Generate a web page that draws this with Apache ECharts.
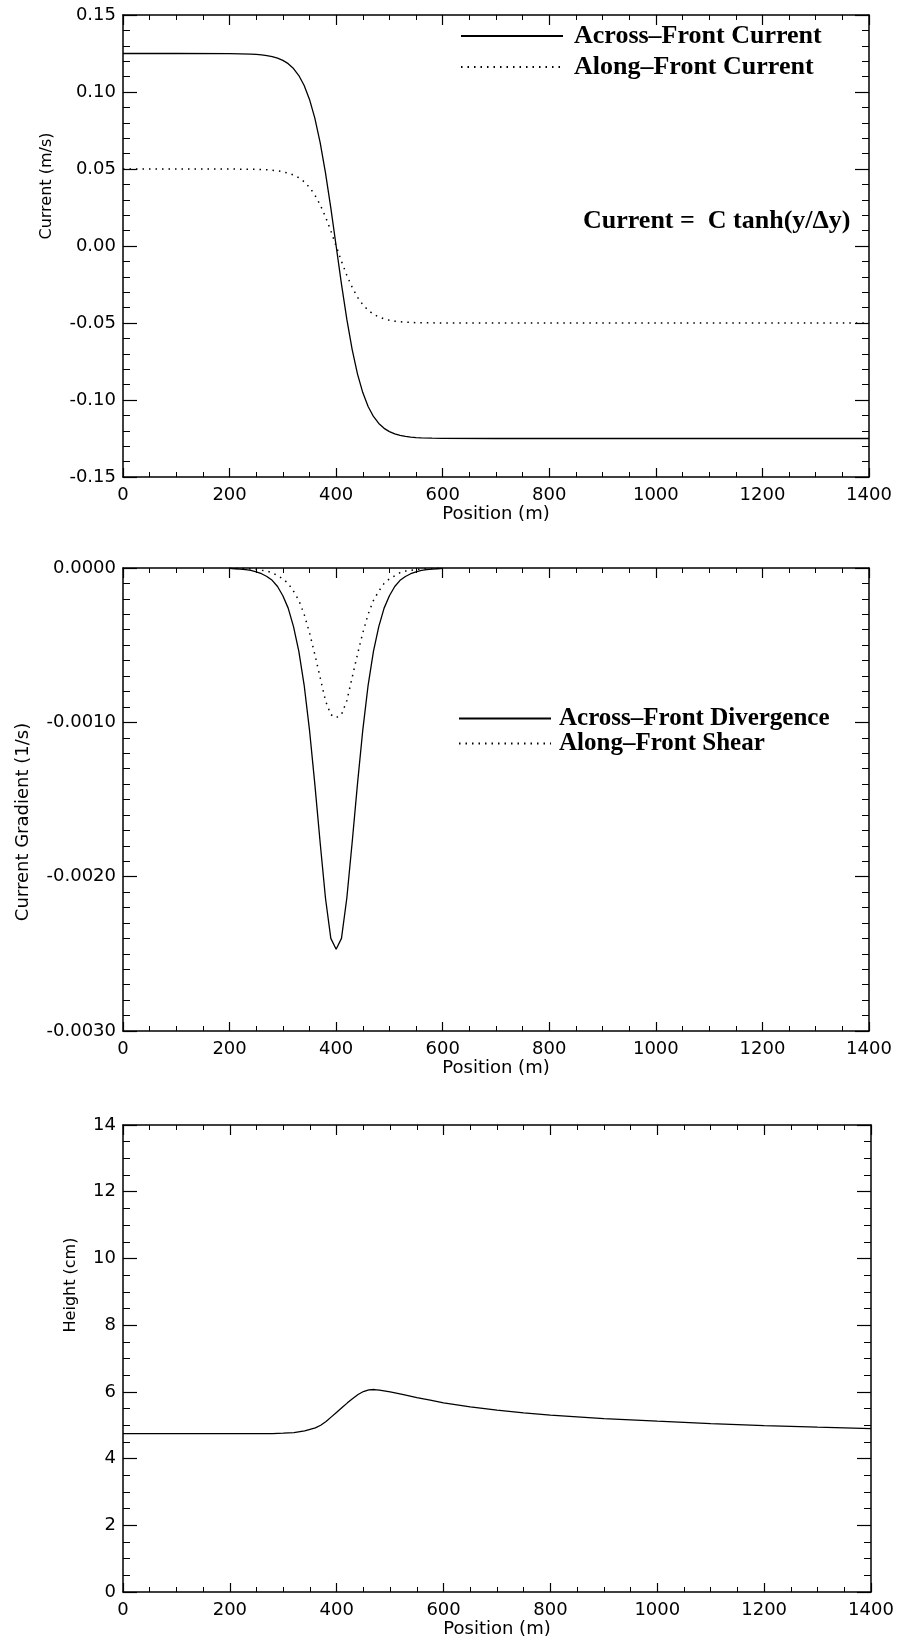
<!DOCTYPE html>
<html><head><meta charset="utf-8">
<script src="https://cdn.jsdelivr.net/npm/echarts@6/dist/echarts.min.js"></script>
<style>html,body{margin:0;padding:0;background:#fff}#c{width:899px;height:1641px}</style>
</head><body><div id="c"></div>
<script>
// ---------- data ----------
const xTicks = [0, 200, 400, 600, 800, 1000, 1200, 1400];

// Panel 1: currents (m/s)
const posCurrent = [0,100,200,220,240,250,260,270,280,290,300,310,320,330,340,350,360,370,380,390,400,410,420,430,440,450,460,470,480,490,500,510,520,530,540,550,560,580,600,700,800,1000,1200,1400];
const acrossCurrent = [0.125,0.125,0.1249,0.1248,0.1246,0.1244,0.1241,0.1236,0.1230,0.1220,0.1205,0.1184,0.1152,0.1107,0.1042,0.0952,0.0830,0.0671,0.0475,0.0247,0.0,-0.0247,-0.0475,-0.0671,-0.0830,-0.0952,-0.1042,-0.1107,-0.1152,-0.1184,-0.1205,-0.1220,-0.1230,-0.1236,-0.1241,-0.1244,-0.1246,-0.1248,-0.1249,-0.125,-0.125,-0.125,-0.125,-0.125];
const alongCurrent = [0.050,0.050,0.0500,0.0499,0.0498,0.0498,0.0496,0.0495,0.0492,0.0488,0.0482,0.0473,0.0461,0.0443,0.0417,0.0381,0.0332,0.0268,0.0190,0.0099,0.0,-0.0099,-0.0190,-0.0268,-0.0332,-0.0381,-0.0417,-0.0443,-0.0461,-0.0473,-0.0482,-0.0488,-0.0492,-0.0495,-0.0496,-0.0498,-0.0498,-0.0499,-0.0500,-0.050,-0.050,-0.050,-0.050,-0.050];

// Panel 2: gradients (1/s)
const posGrad = [200,210,220,230,240,250,260,270,280,290,300,310,320,330,340,350,360,370,380,390,400,410,420,430,440,450,460,470,480,490,500,510,520,530,540,550,560,570,580,590,600];
const divergence = [-0.000003,-0.000005,-0.000007,-0.000011,-0.000016,-0.000025,-0.000037,-0.000055,-0.00008,-0.00012,-0.00018,-0.00026,-0.00038,-0.00054,-0.00076,-0.00105,-0.00140,-0.00178,-0.00214,-0.00240,-0.00247,-0.00240,-0.00214,-0.00178,-0.00140,-0.00105,-0.00076,-0.00054,-0.00038,-0.00026,-0.00018,-0.00012,-0.00008,-0.000055,-0.000037,-0.000025,-0.000016,-0.000011,-0.000007,-0.000005,-0.000003];
const shear = [-0.000001,-0.000002,-0.000003,-0.000004,-0.000006,-0.00001,-0.000015,-0.00002,-0.00003,-0.00005,-0.00007,-0.00010,-0.00015,-0.00021,-0.00030,-0.00042,-0.00056,-0.00071,-0.00086,-0.00095,-0.00097,-0.00095,-0.00086,-0.00071,-0.00056,-0.00042,-0.00030,-0.00021,-0.00015,-0.00010,-0.00007,-0.00005,-0.00003,-0.00002,-0.000015,-0.00001,-0.000006,-0.000004,-0.000003,-0.000002,-0.000001];

// Panel 3: height (cm)
const posHeight = [0,100,200,280,300,320,340,360,370,380,390,400,410,420,430,440,450,460,470,480,500,525,550,575,600,650,700,750,800,900,1000,1100,1200,1300,1400];
const height = [4.75,4.75,4.75,4.75,4.76,4.78,4.83,4.92,5.00,5.11,5.25,5.39,5.53,5.67,5.80,5.92,6.01,6.06,6.07,6.05,6.00,5.92,5.83,5.75,5.67,5.55,5.45,5.37,5.30,5.20,5.12,5.05,4.99,4.94,4.90];

// ---------- build ----------
const pair = (xs, ys) => xs.map((x, i) => [x, ys[i]]);
const AX = '#000';
const tickFont = {fontFamily: 'DejaVu Sans', fontSize: 18, color: '#000'};

function xAxes(gi) {
  const base = {gridIndex: gi, type: 'value', min: 0, max: 1400, interval: 200,
    axisLine: {show: true, onZero: false, lineStyle: {color: AX, width: 1.5}},
    splitLine: {show: false}};
  return [
    Object.assign({}, base, {position: 'bottom',
      name: 'Position (m)', nameLocation: 'middle', nameGap: 27,
      nameTextStyle: tickFont,
      axisTick: {show: true, inside: true, length: 9, lineStyle: {color: AX, width: 1.2}},
      minorTick: {show: true, splitNumber: 4, length: 5, lineStyle: {color: AX, width: 1}},
      axisLabel: Object.assign({margin: 9, formatter: v => String(v)}, tickFont)}),
    Object.assign({}, base, {position: 'top',
      axisTick: {show: true, inside: true, length: 10, lineStyle: {color: AX, width: 1.2}},
      minorTick: {show: true, splitNumber: 4, length: 5, lineStyle: {color: AX, width: 1}},
      axisLabel: {show: false}})
  ];
}
function yAxes(gi, min, max, interval, minorSplit, digits) {
  const base = {gridIndex: gi, type: 'value', min: min, max: max, interval: interval,
    axisLine: {show: true, onZero: false, lineStyle: {color: AX, width: 1.5}},
    splitLine: {show: false}};
  return [
    Object.assign({}, base, {position: 'left',
      axisTick: {show: true, inside: true, length: 14, lineStyle: {color: AX, width: 1.2}},
      minorTick: {show: true, splitNumber: minorSplit, length: 7, lineStyle: {color: AX, width: 1}},
      axisLabel: Object.assign({margin: 7, formatter: v => Math.abs(v) < 1e-12 ? (0).toFixed(digits) : v.toFixed(digits)}, tickFont)}),
    Object.assign({}, base, {position: 'right',
      axisTick: {show: true, inside: true, length: 14, lineStyle: {color: AX, width: 1.2}},
      minorTick: {show: true, splitNumber: minorSplit, length: 7, lineStyle: {color: AX, width: 1}},
      axisLabel: {show: false}})
  ];
}
const solid = {color: '#000', width: 1.3, type: 'solid'};
const dotted = {color: '#000', width: 1.5, type: [1.5, 5]};
function line(name, xi, yi, data, style) {
  return {name: name, type: 'line', xAxisIndex: xi, yAxisIndex: yi, data: data,
    symbol: 'none', showSymbol: false, smooth: false, lineStyle: style, itemStyle: {color: '#000'},
    emphasis: {disabled: true}, silent: true};
}
const legText = (size, padLeft) => ({fontFamily: 'Liberation Serif', fontWeight: 'bold', fontSize: size, color: '#000', padding: [0, 0, 0, padLeft]});
const yTitle = (text, x, y, size) => ({type: 'text', x: x, y: y, rotation: Math.PI / 2,
  style: {text: text, font: size + 'px "DejaVu Sans"', fill: '#000', align: 'center', verticalAlign: 'middle'}});

const option = {
  animation: false,
  backgroundColor: '#fff',
  grid: [
    {left: 123, right: 30, top: 15, height: 462},
    {left: 123, right: 30, top: 568, height: 463},
    {left: 123, right: 28, top: 1125, height: 467}
  ],
  xAxis: [...xAxes(0), ...xAxes(1), ...xAxes(2)],
  yAxis: [
    ...yAxes(0, -0.15, 0.15, 0.05, 5, 2),
    ...yAxes(1, -0.003, 0, 0.001, 10, 4),
    ...yAxes(2, 0, 14, 2, 4, 0)
  ],
  legend: [
    {data: ['Across\u2013Front Current', 'Along\u2013Front Current'], orient: 'vertical', left: 460, top: 23,
     padding: 0, itemWidth: 102, itemHeight: 14, itemGap: 5, textStyle: legText(26, 6), selectedMode: false,
     itemStyle: {opacity: 0, color: 'transparent', borderWidth: 0}},
    {data: ['Across\u2013Front Divergence', 'Along\u2013Front Shear'], orient: 'vertical', left: 458, top: 706,
     padding: 0, itemWidth: 92, itemHeight: 14, itemGap: 0, textStyle: legText(25, 3), selectedMode: false,
     itemStyle: {opacity: 0, color: 'transparent', borderWidth: 0}}
  ],
  graphic: [
    {type: 'text', left: 583, top: 208, style: {text: 'Current =  C tanh(y/\u0394y)', font: 'bold 26px "Liberation Serif"', fill: '#000'}},
    yTitle('Current (m/s)', 47, 186, 16),
    yTitle('Current Gradient (1/s)', 23, 822, 18),
    yTitle('Height (cm)', 71, 1285, 16)
  ],
  series: [
    line('Across\u2013Front Current', 0, 0, pair(posCurrent, acrossCurrent), solid),
    line('Along\u2013Front Current', 0, 0, pair(posCurrent, alongCurrent), dotted),
    line('Across\u2013Front Divergence', 2, 2, pair(posGrad, divergence), solid),
    line('Along\u2013Front Shear', 2, 2, pair(posGrad, shear), dotted),
    line('Height', 4, 4, pair(posHeight, height), solid)
  ]
};
const chart = echarts.init(document.getElementById('c'), null, {renderer: 'canvas'});
chart.setOption(option);
</script>
</body></html>
